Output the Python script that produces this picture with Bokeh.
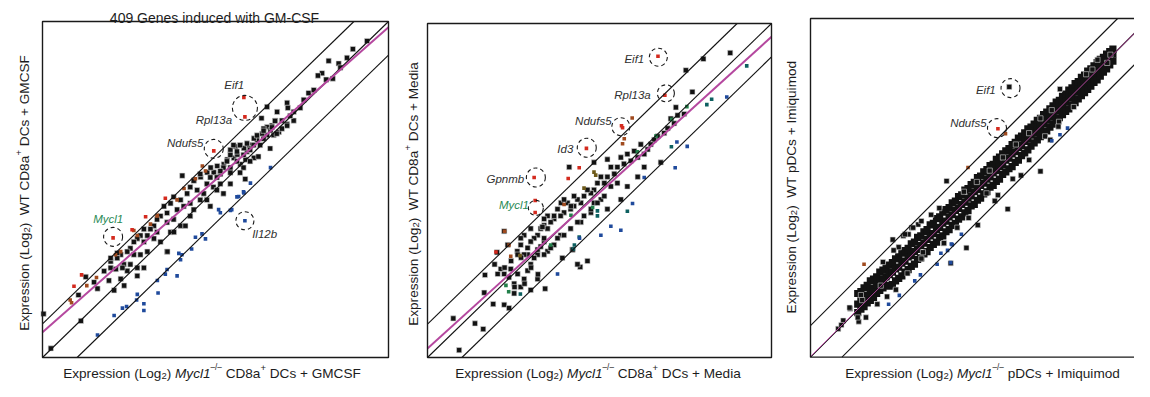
import math
from bokeh.plotting import figure
from bokeh.layouts import row
from bokeh.models import Label, Range1d
from bokeh.embed import file_html
from bokeh.resources import INLINE

# ---------------- data (log2 expression, x = Mycl1-/-, y = WT) ----------------
P1_BLACK = [
    (9.38,9.42),(8.97,9.18),(8.27,8.83),(8.08,8.46),(7.96,8.39),(8.56,8.75),(8.61,8.63),(8.20,8.27),
    (8.39,8.30),(7.69,7.87),(7.07,7.58),(7.09,7.43),(7.45,7.43),(7.26,7.05),(7.07,6.95),(6.73,7.05),
    (6.63,6.90),(6.49,6.86),(6.39,6.81),(6.83,6.71),(6.92,6.81),(6.68,6.62),(6.49,6.62),(6.33,7.12),
    (6.49,7.46),(6.20,6.47),(6.06,6.33),(5.96,6.23),(5.72,6.31),(5.91,6.13),(5.58,6.28),(5.43,6.18),
    (6.11,5.94),(5.87,5.89),(5.72,5.75),(5.53,5.94),(5.43,5.65),(5.24,5.75),(5.14,5.46),(4.95,5.51),
    (4.76,5.51),(4.57,5.37),(4.38,5.27),(4.04,5.41),(7.07,6.90),(7.26,7.31),(6.78,7.31),(7.16,7.19),
    (6.92,7.05),(6.59,6.76),(6.35,6.66),(6.11,6.52),(5.82,6.23),(5.63,6.04),(5.34,5.89),(5.05,5.70),
    (4.86,5.65),(7.55,7.67),(7.84,7.96),(8.80,8.92),
    (6.72,7.04),(6.63,6.85),(6.39,6.75),(6.20,6.61),(6.39,6.51),(6.10,6.32),(5.91,6.37),(5.71,6.32),
    (5.52,6.32),(5.62,6.13),(5.81,6.03),(6.00,6.18),(5.43,6.03),(5.33,5.84),(5.62,5.84),(5.81,5.65),
    (5.23,5.65),(5.14,5.55),(5.43,5.50),(5.71,5.50),(5.04,5.36),(4.85,5.36),(4.75,5.17),(4.56,5.46),
    (4.37,5.26),(4.27,5.07),(4.47,4.98),(4.66,4.88),(4.18,4.88),(3.99,4.69),(4.08,4.50),(4.27,4.59),
    (4.37,4.40),(3.79,4.78),(3.70,4.59),(3.89,4.40),(3.60,4.30),(3.51,4.50),(3.41,4.21),(3.31,4.11),
    (3.60,4.02),(3.79,4.11),(3.22,3.92),(3.12,3.82),(2.93,3.82),(2.83,3.63),(3.03,3.63),(2.74,3.54),
    (2.64,3.44),(2.93,3.44),(3.22,3.54),(3.31,3.73),(2.54,3.25),(2.45,3.15),(2.26,3.06),(2.16,2.96),
    (1.97,2.86),(2.64,3.06),(2.83,3.06),(3.03,3.15),(2.35,2.77),(2.54,2.77),(2.74,2.67),(1.97,2.67),
    (1.78,2.57),(3.60,3.15),(3.41,3.44),(4.75,4.69),(4.94,5.07),(5.14,5.17),(5.23,4.88),(5.43,5.17),
    (5.04,4.98),(3.70,3.73),(3.99,3.92),(4.27,4.21),(4.56,4.69),(4.85,4.50),(6.58,6.22),(6.29,6.32),
    (6.77,6.66),(6.00,5.84),(6.24,5.98),(5.86,5.31),
    (0.24,0.27),(1.11,1.09),(0.03,1.30),(1.04,1.86),(1.25,2.40),(1.49,2.24),(1.59,2.05),(1.92,2.29),
    (2.07,2.00),(2.36,2.14),(2.74,2.43),(2.45,2.58),(2.26,2.34),(2.93,2.67),(3.61,3.15),(3.80,3.73),
    (4.13,3.92),(2.31,2.67),(2.12,2.63),(1.97,2.96),(2.16,3.11),
]
P1_RED = [(5.82,7.74),(5.85,7.16),(4.95,6.15),(2.04,3.56),(3.55,4.74),(2.98,4.19),(2.59,3.80),
          (1.13,2.46),(0.91,2.12)]
P1_BROWN = [(4.62,5.70),(4.42,5.32),(4.09,5.03),(4.71,5.55),(3.89,4.69),(3.31,4.21),(3.12,3.97),
            (2.64,3.78),(2.26,3.15),(2.11,3.06),(1.28,2.14),(0.80,1.71),(0.84,1.63),(3.32,4.23),
            (2.74,3.63),(1.56,2.38)]
P1_BLUE = [(6.59,5.65),(6.01,5.19),(5.81,4.93),(5.62,4.78),(5.47,4.40),(5.09,4.40),(4.61,3.68),
           (4.42,3.58),(4.71,3.53),(4.03,3.06),(3.94,3.10),(3.60,2.62),(3.55,2.48),(3.89,2.43),
           (1.59,0.67),(2.07,1.25),(2.31,1.47),(2.43,1.52),(2.74,1.88),(2.72,1.71),(2.93,1.40),
           (2.93,1.60),(3.34,1.92),(3.32,2.29),(3.99,2.91),(4.31,3.23),(5.14,4.31),(5.43,4.38),
           (5.67,4.79),(5.82,4.90),(5.85,4.07)]

P2_BLACK = [
    (8.80,9.12),(8.02,8.94),(7.51,8.60),(7.70,7.95),
    (7.22,7.49),(7.46,7.29),(7.27,7.25),(7.07,7.15),(7.17,7.01),(6.98,6.86),(6.88,6.72),(6.69,6.62),
    (6.59,6.52),(6.49,6.38),(6.40,6.23),(6.20,6.38),(6.30,6.09),(6.11,5.99),(6.01,6.18),(5.91,5.89),
    (5.81,6.09),(5.71,5.80),(5.62,5.99),(5.52,5.70),(5.43,5.50),(5.33,5.70),(5.23,5.41),(5.14,5.22),
    (5.33,5.12),(5.52,5.22),(5.04,5.41),(4.94,5.22),(4.84,5.02),(4.75,4.92),(4.65,5.02),(4.55,4.83),
    (4.46,4.63),(4.36,4.73),(4.26,4.53),(4.16,4.44),(4.07,4.63),(3.97,4.34),(3.87,4.24),(3.78,4.44),
    (3.68,4.15),(3.58,4.05),(3.49,4.24),(3.39,3.96),(3.29,3.86),(3.20,3.66),(3.10,3.57),(3.00,3.47),
    (2.81,3.66),(2.71,3.37),(2.61,3.18),(2.91,3.08),(3.20,3.08),(3.49,3.18),(3.39,3.47),(3.68,3.37),
    (3.87,3.66),(4.16,3.86),(4.46,4.05),(4.75,4.34),(4.84,4.63),(5.04,4.73),(5.23,4.44),(5.62,4.73),
    (5.81,5.12),(6.11,5.41),(6.30,5.70),(6.78,5.84),(4.12,5.70),(5.23,5.93),(4.84,5.84),(4.44,2.71),
    (4.21,3.23),(3.92,2.98),(4.36,2.79),(4.65,2.89),
    (0.75,1.17),(0.92,0.22),(1.38,1.02),(1.62,0.85),(1.67,2.47),(1.65,1.94),(1.91,1.60),(2.23,1.58),
    (2.37,1.48),(2.02,3.15),(2.23,3.78),(2.13,2.65),(2.23,2.50),(2.37,2.40),(2.42,2.65),(2.52,2.21),
    (2.71,2.11),(2.81,2.35),(2.52,1.92),(3.00,2.02),(3.20,2.35),(3.42,2.06),(2.33,3.37),
    (2.62,2.50),(2.91,2.60),(3.00,2.79),(2.81,3.08),(3.10,2.98),(3.20,3.23),(3.29,3.32),(3.39,3.57),
    (3.49,3.86),(3.39,4.15),(3.68,4.24),(3.88,4.63),(3.97,4.73),(4.17,4.53),(4.26,4.83),(4.36,4.05),
    (4.55,4.24),(4.75,4.44),(4.94,4.63),(5.14,4.83),(3.39,3.08),(3.58,3.28),(3.78,3.57),(3.97,3.66),
    (4.22,3.23),(2.62,3.08),(2.71,3.57),(2.91,3.28),(3.00,3.86),(3.34,3.91),
    (2.82,2.21),(2.53,2.11),(3.01,2.69),(3.21,2.49),(2.43,2.89),(2.24,2.69),(2.04,2.50),(1.95,2.79),
    (2.72,2.99),
]
P2_RED = [(6.70,9.02),(6.90,7.85),(5.64,6.94),(5.67,6.88),(4.62,6.26),(3.10,5.39),(3.13,4.70),
          (3.13,4.34),(4.41,5.68),(4.09,5.36),(1.99,3.16)]
P2_BROWN = [(5.95,7.17),(5.72,6.55),(5.67,6.40),(3.97,4.58),(2.42,3.03),(2.37,3.37),(2.24,3.78)]
P2_OLIVE = [(4.89,5.46),(4.84,5.55),(4.55,5.07),(2.69,3.05)]
P2_BLUE = [(8.70,7.80),(7.55,6.32),(7.25,6.45),(7.20,5.68),(6.30,5.39),(5.96,4.61),(5.33,3.93),
           (5.62,3.81),(5.04,3.66),(3.78,2.50),(4.42,3.57)]
P2_TEAL = [(9.28,8.73),(8.26,7.73),(8.12,7.57),(7.09,6.31),(4.94,4.39),(5.81,4.38),(4.41,3.61),
           (4.24,3.25),(4.94,4.24),(4.27,3.37),(2.70,1.90)]
P2_GREEN = [(6.10,6.16),(6.64,6.63),(7.10,7.13),(7.54,7.51),(4.80,4.49),(3.58,3.37),(4.17,4.26),
            (2.28,2.16),(2.36,1.97)]

# dense core of the pDC panel: (x, upper y, middle y, lower y)
P3_BAND = [
    (1.5,2.02,1.68,1.41),(1.6,2.08,1.79,1.52),(1.7,2.20,1.88,1.60),(1.8,2.28,1.95,1.72),
    (1.9,2.42,2.10,1.80),(2.0,2.48,2.18,1.90),(2.1,2.55,2.30,2.02),(2.2,2.70,2.35,2.12),
    (2.3,2.76,2.48,2.20),(2.4,2.85,2.55,2.28),(2.5,2.92,2.62,2.25),(2.6,3.00,2.70,2.30),
    (2.7,3.12,2.80,2.42),(2.8,3.18,2.86,2.50),(2.9,3.30,2.98,2.58),(3.0,3.38,3.05,2.70),
    (3.1,3.45,3.18,2.78),(3.2,3.60,3.22,2.88),(3.3,3.65,3.35,2.95),(3.4,3.80,3.42,3.10),
    (3.5,3.85,3.55,3.15),(3.6,3.98,3.62,3.28),(3.7,4.05,3.74,3.35),(3.8,4.20,3.85,3.48),
    (3.9,4.25,3.92,3.58),(4.0,4.40,4.05,3.65),(4.1,4.45,4.12,3.80),(4.2,4.60,4.25,3.85),
    (4.3,4.68,4.32,3.98),(4.4,4.75,4.45,4.05),(4.5,4.90,4.52,4.18),(4.6,4.95,4.66,4.25),
    (4.7,5.10,4.72,4.38),(4.8,5.15,4.85,4.45),(4.9,5.30,4.92,4.58),(5.0,5.35,5.05,4.65),
    (5.1,5.48,5.12,4.80),(5.2,5.55,5.25,4.85),(5.3,5.70,5.32,4.98),(5.4,5.75,5.45,5.05),
    (5.5,5.88,5.52,5.18),(5.6,5.95,5.65,5.25),(5.7,6.08,5.72,5.40),(5.8,6.12,5.85,5.45),
    (5.9,6.28,5.92,5.58),(6.0,6.35,6.05,5.65),(6.1,6.45,6.12,5.80),(6.2,6.55,6.25,5.88),
    (6.3,6.62,6.32,5.98),(6.4,6.75,6.45,6.05),(6.5,6.82,6.52,6.18),(6.6,6.95,6.65,6.25),
    (6.7,7.02,6.72,6.40),(6.8,7.12,6.85,6.48),(6.9,7.25,6.92,6.58),(7.0,7.30,7.05,6.70),
    (7.1,7.40,7.12,6.80),(7.2,7.52,7.22,6.90),(7.3,7.58,7.32,7.00),(7.4,7.70,7.42,7.10),
    (7.5,7.78,7.52,7.18),(7.6,7.88,7.62,7.30),(7.7,7.98,7.70,7.40),(7.8,8.10,7.82,7.48),
    (7.9,8.15,7.92,7.60),(8.0,8.28,8.02,7.70),(8.1,8.35,8.10,7.80),(8.2,8.48,8.22,7.88),
    (8.3,8.55,8.30,8.00),(8.4,8.68,8.42,8.08),(8.5,8.75,8.50,8.20),(8.6,8.88,8.62,8.30),
    (8.7,8.95,8.70,8.40),(8.8,9.08,8.82,8.50),(8.9,9.15,8.92,8.60),(9.0,9.25,9.00,8.72),
    (9.1,9.35,9.12,8.80),(9.2,9.45,9.20,8.92),(9.3,9.52,9.30,9.05),(9.4,9.62,9.42,9.15),
    (9.5,9.70,9.50,9.28),(9.6,9.78,9.62,9.40),
]
P3_BLACK = [
    (6.31,8.58),(4.32,5.59),(7.30,5.90),(7.89,7.47),(8.95,9.13),(7.92,8.51),(6.26,4.70),(5.31,4.19),
    (4.95,3.47),(6.42,5.66),(6.68,5.77),(6.94,6.26),(7.45,7.01),(7.87,7.32),(2.61,3.73),(3.21,4.11),
    (4.22,3.61),(5.95,5.14),(5.85,4.96),(5.59,5.20),(5.02,4.42),(4.66,4.11),(2.30,3.02),(1.26,1.54),
    (1.04,1.16),(1.53,1.13),(1.76,1.26),(1.60,1.97),(1.64,1.81),(4.45,2.98),(2.43,1.92),(2.23,2.27),
    (2.12,1.68),(2.80,3.49),(2.95,3.85),(3.11,3.90),(3.42,4.21),(2.64,3.39),(4.24,3.62),(3.57,3.33),
    (3.52,3.13),(3.08,2.66),(2.71,2.14),(0.88,0.90),(0.98,1.02),(1.24,1.57),(1.50,1.26),(3.00,3.90),
    (3.26,4.11),(3.83,4.52),(3.52,4.32),(4.09,4.73),(4.87,5.25),(5.28,5.56),(5.69,5.92),(6.11,6.34),
    (6.52,6.75),(6.94,7.11),(7.30,7.58),(7.66,7.84),(9.52,9.60),(9.11,9.44),(9.42,9.34),(8.36,7.94),
    (7.61,6.90),(8.75,8.98),
]
P3_RED = [(5.95,7.25)]
P3_BROWN = [(6.19,7.09),(5.00,6.02),(1.70,2.95)]
P3_BLUE = [(8.16,7.27),(7.92,7.06),(7.66,6.87),(4.79,3.90),(4.47,3.59),(4.35,3.39),(4.14,3.30),
           (4.02,2.95),(4.45,3.00),(3.49,2.61),(2.48,1.68),(2.82,1.96),(3.31,2.42),(4.50,3.57)]

# fitted lines (intercept, slope) and fold-change guide offsets
FITS = [(0.75, 0.908), (0.27, 0.933), (0.02, 0.998)]
GUIDES = [-1.0, 0.0, 1.0]

# gene call-outs: (name, label x, label y, align, circle x, circle y, circle diameter px)
P1_GENES = [("Eif1", 5.54, 8.12, "center", 5.85, 7.43, 25), ("Rpl13a", 5.48, 7.07, "right", None, None, 0),
            ("Ndufs5", 4.65, 6.37, "right", 4.95, 6.21, 19), ("Mycl1", 1.90, 4.11, "center", 2.04, 3.59, 19),
            ("Il12b", 6.06, 3.68, "left", 5.85, 4.07, 18)]
P2_GENES = [("Eif1", 6.30, 8.94, "right", 6.71, 8.99, 18), ("Rpl13a", 6.49, 7.85, "right", 6.93, 7.91, 17),
            ("Ndufs5", 5.35, 7.08, "right", 5.62, 6.91, 18), ("Id3", 4.24, 6.23, "right", 4.63, 6.28, 19),
            ("Gpnmb", 2.81, 5.33, "right", 3.15, 5.39, 19), ("Mycl1", 2.95, 4.56, "right", 3.15, 4.48, 15)]
P3_GENES = [("Eif1", 5.88, 8.48, "right", 6.35, 8.54, 19), ("Ndufs5", 5.59, 7.44, "right", 5.92, 7.27, 19)]

TITLE1 = "409 Genes induced with GM-CSF"
YLAB_TAIL = [" DCs + GMCSF", " DCs + Media"]
XLAB_TAIL = [" DCs + GMCSF", " DCs + Media", " pDCs + Imiquimod"]

# ---------------- styling helpers ----------------
FONT = "Liberation Sans"
NB = "\u00a0"
AW = {'E':667,'x':500,'p':556,'r':333,'e':556,'s':500,'i':222,'o':556,'n':556,' ':278,'(':333,
      'L':556,'g':556,'2':556,')':333,'M':833,'y':500,'c':500,'l':222,'1':556,'–':556,'/':278,
      'C':722,'D':722,'8':556,'a':556,'+':584,'G':778,'S':667,'F':611,'W':944,'T':611,'d':556,
      'I':278,'m':833,'q':556,'u':556,'4':556,'0':556,'9':556,'h':556,'w':722,'t':278,'-':333,
      NB:278}

def tw(s, size):
    return sum(AW.get(ch, 556) for ch in s) * size / 1000.0

def rich(p, pieces, size, cx, cy, vertical=False, color="#1c1c1c"):
    total = sum(tw(t, size * sc) for t, sc, sh, it in pieces)
    pos = -total / 2.0
    for t, sc, sh, it in pieces:
        fs = size * sc
        lead = len(t) - len(t.lstrip(" "))
        start = pos + tw(" " * lead, fs)
        if vertical:
            x, y, ang = cx - sh * size, cy + start, math.pi / 2
        else:
            x, y, ang = cx + start, cy + sh * size, 0
        if t.strip():
            p.add_layout(Label(x=x, y=y, x_units="screen", y_units="screen", text=t.strip(" "),
                               angle=ang, text_font=FONT, text_font_size=f"{fs:.2f}px",
                               text_font_style="italic" if it else "normal",
                               text_align="left", text_baseline="alphabetic", text_color=color))
        pos += tw(t, fs)

def make_fig(W, H, bl, bt, sx, sy, box_x, box_y):
    # the whole canvas is the frame; the plot box [0,box_x]x[0,box_y] is drawn as a quad
    bb = H - bt - box_y * sy
    p = figure(width=W, height=H,
               x_range=Range1d(-bl / sx, (W - bl) / sx), y_range=Range1d(-bb / sy, (H - bb) / sy),
               output_backend="svg", toolbar_location=None,
               min_border_left=0, min_border_right=0, min_border_top=0, min_border_bottom=0)
    p.axis.visible = False
    p.grid.visible = False
    p.outline_line_color = None
    p.background_fill_color = "white"
    p.border_fill_color = "white"
    info = dict(bl=bl, bb=bb, H=H, xmax=box_x, ymax=box_y)
    return p, info

COLORS = {"black": "#121212", "red": "#d42a1e", "brown": "#a04a1e", "blue": "#1f4a9c",
          "teal": "#0d6060", "green": "#22804a", "olive": "#6e5a1a"}

def pts(p, data, color, size, edge="#d6d6d6"):
    xs = [d[0] for d in data]
    ys = [d[1] for d in data]
    if color == "black":
        p.scatter(xs, ys, marker="square", size=size, fill_color=COLORS[color],
                  line_color=edge, line_width=0.6)
    else:
        p.scatter(xs, ys, marker="square", size=size, fill_color=COLORS[color], line_color=None)

def clip_line(a, b, xm, ym):
    x0 = max(0.0, (0.0 - a) / b)
    x1 = min(xm, (ym - a) / b)
    return x0, a + b * x0, x1, a + b * x1

def guides(p, info, fit, mag_w):
    xm, ym = info["xmax"], info["ymax"]
    for g in GUIDES:
        x0, y0, x1, y1 = clip_line(g, 1.0, xm, ym)
        p.segment([x0], [y0], [x1], [y1], line_color="#111111", line_width=1.1)
    x0, y0, x1, y1 = clip_line(fit[0], fit[1], xm, ym)
    p.segment([x0], [y0], [x1], [y1], line_color="#b5489f", line_width=mag_w)
    p.quad(left=[0], right=[xm], bottom=[0], top=[ym], fill_color=None,
           line_color="#1a1a1a", line_width=1.4)

def genes(p, items):
    for name, lx, ly, al, cxg, cyg, d in items:
        col = "#2b8a55" if name == "Mycl1" else "#303030"
        p.add_layout(Label(x=lx, y=ly, text=name, text_font=FONT, text_font_size="11.5px",
                           text_font_style="italic", text_align=al, text_baseline="middle",
                           text_color=col))
        if cxg is not None:
            p.scatter([cxg], [cyg], marker="circle", size=d, fill_color=None, line_color="#1a1a1a",
                      line_width=1.1, line_dash="4 3")

def ylabel_pieces(cell, sup, tail):
    pcs = [("Expression (Log", 1, 0, False), ("2", 0.7, -0.22, False), (")" + NB + NB + "WT " + cell, 1, 0, False)]
    if sup:
        pcs += [("+", 0.7, 0.4, False), (tail, 1, 0, False)]
    return pcs

def xlabel_pieces(cd8, tail):
    pcs = [("Expression (Log", 1, 0, False), ("2", 0.7, -0.22, False), (") ", 1, 0, False),
           ("Mycl1", 1, 0, True), ("–/–", 0.6, 0.4, False)]
    if cd8:
        pcs += [(" CD8a", 1, 0, False), ("+", 0.7, 0.4, False), (tail, 1, 0, False)]
    else:
        pcs += [(tail, 1, 0, False)]
    return pcs

H = 381
XFS = 13.6   # x-axis label font px
YFS = 13.6   # y-axis label font px
XBASE = 8.5  # x-label baseline, px above the canvas bottom

# ---------------- panel 1 ----------------
p1, i1 = make_fig(392, H, 42, 21, 34.6, 33.6, 10, 10)
pts(p1, P1_BLACK, "black", 5.2)
pts(p1, P1_BROWN, "brown", 3.6)
pts(p1, P1_RED, "red", 3.6)
pts(p1, P1_BLUE, "blue", 3.6)
guides(p1, i1, FITS[0], 2)
genes(p1, P1_GENES)
rich(p1, [(TITLE1, 1, 0, False)], 14, 214, H - 17)
rich(p1, ylabel_pieces("CD8a", True, YLAB_TAIL[0]), YFS, 23.5, H - 192.5, vertical=True)
rich(p1, xlabel_pieces(True, XLAB_TAIL[0]), XFS, 211.5, XBASE)

# ---------------- panel 2 ----------------
p2, i2 = make_fig(381, H, 35, 23, 34.4, 33.4, 10, 10)
pts(p2, P2_BLACK, "black", 5.2)
pts(p2, P2_OLIVE, "olive", 3.6)
pts(p2, P2_BROWN, "brown", 3.6)
pts(p2, P2_GREEN, "green", 3.6)
pts(p2, P2_TEAL, "teal", 3.6)
pts(p2, P2_BLUE, "blue", 3.6)
pts(p2, P2_RED, "red", 3.6)
guides(p2, i2, FITS[1], 2)
genes(p2, P2_GENES)
rich(p2, ylabel_pieces("CD8a", True, YLAB_TAIL[1]), YFS, 20.5, H - 193.5, vertical=True)
rich(p2, xlabel_pieces(True, XLAB_TAIL[1]), XFS, 205.5, XBASE)

# ---------------- panel 3 ----------------
p3, i3 = make_fig(361, H, 37, 18, 31.5, 31.5, 10.6, 10.75)
band = []
for bx, hi, mid, lo in P3_BAND:
    band += [(bx, hi), (bx, mid), (bx, lo)]
pts(p3, band, "black", 7.2, edge=None)
pts(p3, P3_BLACK, "black", 5.2)
pts(p3, P3_BROWN, "brown", 3.6)
pts(p3, P3_BLUE, "blue", 3.6)
pts(p3, P3_RED, "red", 3.6)
guides(p3, i3, FITS[2], 1)
genes(p3, P3_GENES)
rich(p3, ylabel_pieces("pDCs + Imiquimod", False, ""), YFS, 18, H - 186.5, vertical=True)
rich(p3, xlabel_pieces(False, XLAB_TAIL[2]), XFS, 209, XBASE)

layout = row(p1, p2, p3)
open("out.html", "w").write(file_html(layout, INLINE))
